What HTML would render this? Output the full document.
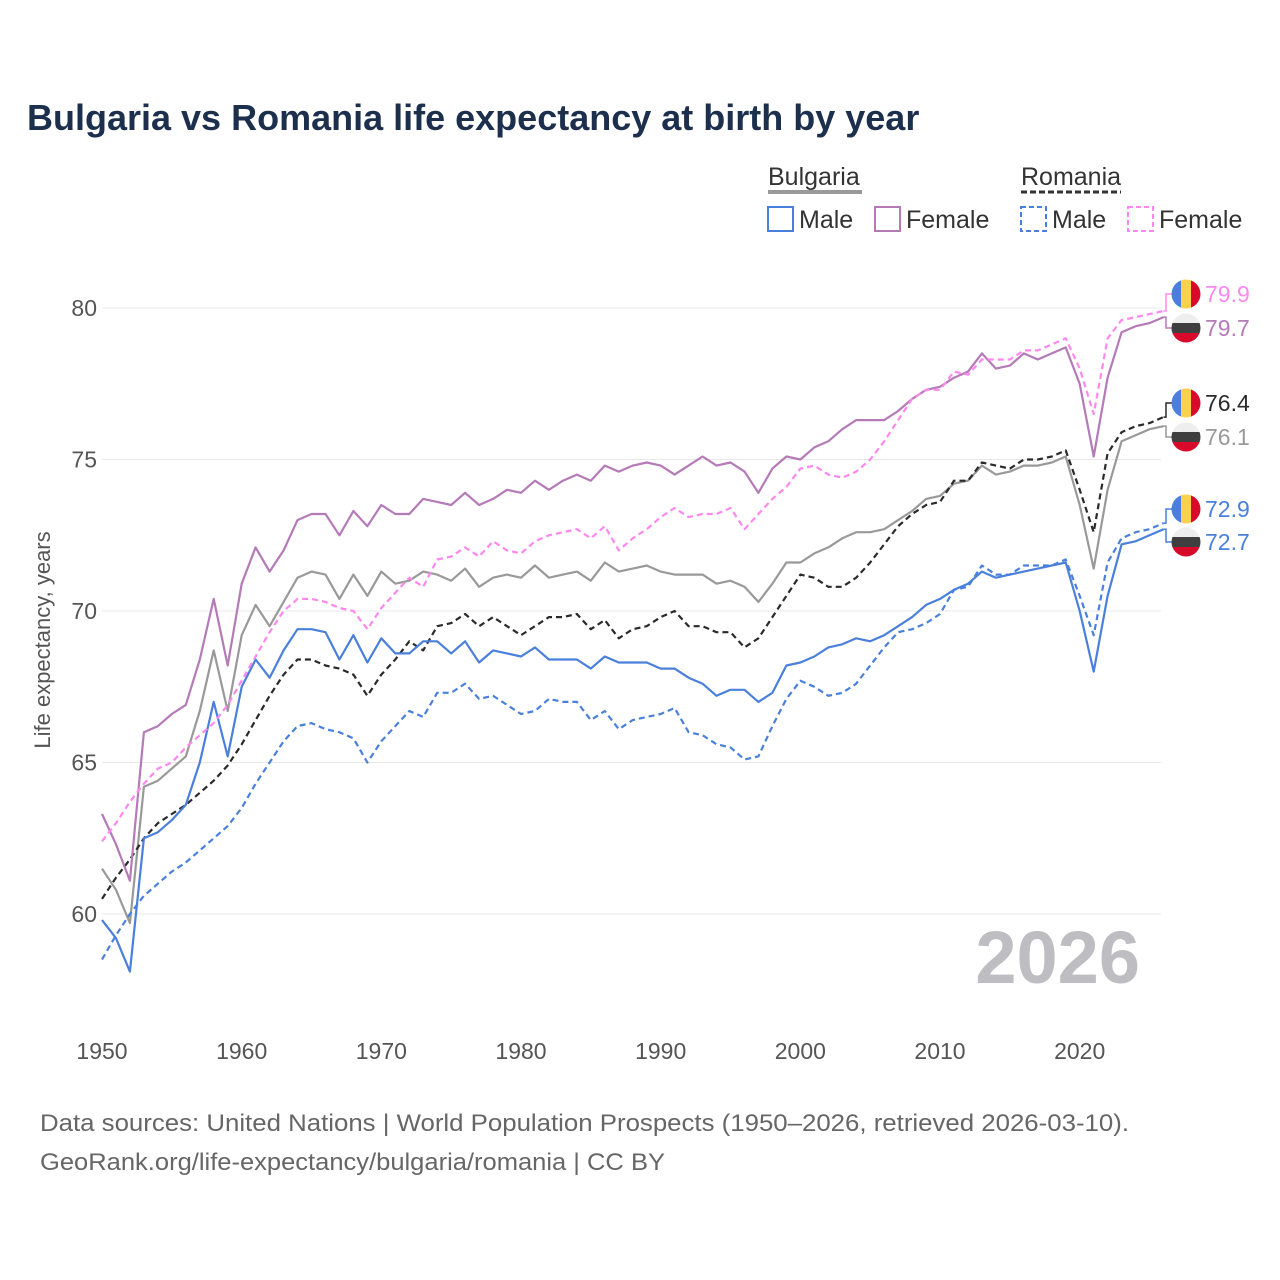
<!DOCTYPE html>
<html><head><meta charset="utf-8"><style>
body{margin:0;background:#fff;font-family:"Liberation Sans",sans-serif;}
svg{display:block}
</style></head><body>
<svg id="chart" width="1280" height="1280" viewBox="0 0 1280 1280" xmlns="http://www.w3.org/2000/svg">
<rect width="1280" height="1280" fill="#fff"/>
<text x="27" y="130" font-size="36" font-weight="bold" fill="#1c2f4d">Bulgaria vs Romania life expectancy at birth by year</text>
<g id="legend" font-size="25" fill="#333">
  <text x="768" y="185">Bulgaria</text>
  <line x1="768" y1="192" x2="862" y2="192" stroke="#999" stroke-width="4"/>
  <text x="1021" y="185">Romania</text>
  <line x1="1021" y1="192" x2="1121" y2="192" stroke="#333" stroke-width="3" stroke-dasharray="6,3"/>
  <g><rect x="768" y="207" width="25" height="24" fill="none" stroke="#4a80db" stroke-width="2"/><text x="799" y="228">Male</text></g>
  <g><rect x="875" y="207" width="25" height="24" fill="none" stroke="#b57ab8" stroke-width="2"/><text x="906" y="228">Female</text></g>
  <g><rect x="1021" y="207" width="25" height="24" fill="none" stroke="#4a80db" stroke-width="2" stroke-dasharray="5,3"/><text x="1052" y="228">Male</text></g>
  <g><rect x="1128" y="207" width="25" height="24" fill="none" stroke="#ff88f0" stroke-width="2" stroke-dasharray="5,3"/><text x="1159" y="228">Female</text></g>
</g>
<g id="grid"></g>
<g id="axes"></g>
<text x="1140" y="983" font-size="74" font-weight="bold" fill="#bdbdc2" text-anchor="end">2026</text>
<g id="series"></g>
<g id="labels"></g>
<text transform="translate(50,640) rotate(-90)" font-size="22" fill="#555" text-anchor="middle">Life expectancy, years</text>
<text x="40" y="1131" font-size="24" fill="#666" textLength="1089" lengthAdjust="spacingAndGlyphs">Data sources: United Nations | World Population Prospects (1950–2026, retrieved 2026-03-10).</text>
<text x="40" y="1170" font-size="24" fill="#666" textLength="625" lengthAdjust="spacingAndGlyphs">GeoRank.org/life-expectancy/bulgaria/romania | CC BY</text>
</svg>
<script>
const startYear = 1950;
const xTicks = [1950,1960,1970,1980,1990,2000,2010,2020];
const yTicks = [60,65,70,75,80];
const bgMale = [59.8,59.2,58.1,62.5,62.7,63.1,63.6,65.0,67.0,65.2,67.5,68.4,67.8,68.7,69.4,69.4,69.3,68.4,69.2,68.3,69.1,68.6,68.6,69.0,69.0,68.6,69.0,68.3,68.7,68.6,68.5,68.8,68.4,68.4,68.4,68.1,68.5,68.3,68.3,68.3,68.1,68.1,67.8,67.6,67.2,67.4,67.4,67.0,67.3,68.2,68.3,68.5,68.8,68.9,69.1,69.0,69.2,69.5,69.8,70.2,70.4,70.7,70.9,71.3,71.1,71.2,71.3,71.4,71.5,71.6,70.0,68.0,70.5,72.2,72.3,72.5,72.7];
const bgFemale = [63.3,62.3,61.1,66.0,66.2,66.6,66.9,68.4,70.4,68.2,70.9,72.1,71.3,72.0,73.0,73.2,73.2,72.5,73.3,72.8,73.5,73.2,73.2,73.7,73.6,73.5,73.9,73.5,73.7,74.0,73.9,74.3,74.0,74.3,74.5,74.3,74.8,74.6,74.8,74.9,74.8,74.5,74.8,75.1,74.8,74.9,74.6,73.9,74.7,75.1,75.0,75.4,75.6,76.0,76.3,76.3,76.3,76.6,77.0,77.3,77.4,77.7,77.9,78.5,78.0,78.1,78.5,78.3,78.5,78.7,77.5,75.1,77.7,79.2,79.4,79.5,79.7];
const bgTotal = [61.5,60.8,59.7,64.2,64.4,64.8,65.2,66.7,68.7,66.7,69.2,70.2,69.5,70.3,71.1,71.3,71.2,70.4,71.2,70.5,71.3,70.9,71.0,71.3,71.2,71.0,71.4,70.8,71.1,71.2,71.1,71.5,71.1,71.2,71.3,71.0,71.6,71.3,71.4,71.5,71.3,71.2,71.2,71.2,70.9,71.0,70.8,70.3,70.9,71.6,71.6,71.9,72.1,72.4,72.6,72.6,72.7,73.0,73.3,73.7,73.8,74.2,74.3,74.8,74.5,74.6,74.8,74.8,74.9,75.1,73.5,71.4,74.0,75.6,75.8,76.0,76.1];
const roMale = [58.5,59.3,60.0,60.6,61.0,61.4,61.7,62.1,62.5,62.9,63.5,64.3,65.0,65.7,66.2,66.3,66.1,66.0,65.8,65.0,65.7,66.2,66.7,66.5,67.3,67.3,67.6,67.1,67.2,66.9,66.6,66.7,67.1,67.0,67.0,66.4,66.7,66.1,66.4,66.5,66.6,66.8,66.0,65.9,65.6,65.5,65.1,65.2,66.2,67.1,67.7,67.5,67.2,67.3,67.6,68.2,68.8,69.3,69.4,69.6,69.9,70.7,70.8,71.5,71.2,71.2,71.5,71.5,71.5,71.7,70.5,69.2,71.6,72.4,72.6,72.7,72.9];
const roFemale = [62.4,63.0,63.7,64.3,64.8,65.0,65.5,65.9,66.3,66.9,67.7,68.5,69.3,70.0,70.4,70.4,70.3,70.1,70.0,69.4,70.1,70.6,71.1,70.8,71.7,71.8,72.1,71.8,72.3,72.0,71.9,72.3,72.5,72.6,72.7,72.4,72.8,72.0,72.4,72.7,73.1,73.4,73.1,73.2,73.2,73.4,72.7,73.2,73.7,74.1,74.7,74.8,74.5,74.4,74.6,75.0,75.6,76.3,77.0,77.3,77.3,77.9,77.8,78.3,78.3,78.3,78.6,78.6,78.8,79.0,78.0,76.5,79.0,79.6,79.7,79.8,79.9];
const roTotal = [60.5,61.2,61.8,62.5,63.0,63.3,63.6,64.0,64.4,64.9,65.6,66.4,67.2,67.9,68.4,68.4,68.2,68.1,67.9,67.2,67.9,68.4,69.0,68.7,69.5,69.6,69.9,69.5,69.8,69.5,69.2,69.5,69.8,69.8,69.9,69.4,69.7,69.1,69.4,69.5,69.8,70.0,69.5,69.5,69.3,69.3,68.8,69.1,69.8,70.5,71.2,71.1,70.8,70.8,71.1,71.6,72.2,72.8,73.2,73.5,73.6,74.3,74.3,74.9,74.8,74.7,75.0,75.0,75.1,75.3,74.0,72.6,75.2,75.9,76.1,76.2,76.4];

const NS='http://www.w3.org/2000/svg';
const x = yr => 102 + (yr-1950)*13.967;
const y = v => 308 + (80-v)*30.3;
function mk(tag, attrs, parent){const e=document.createElementNS(NS,tag);for(const k in attrs)e.setAttribute(k,attrs[k]);parent.appendChild(e);return e;}
const grid=document.getElementById('grid'), axes=document.getElementById('axes'), series=document.getElementById('series'), labels=document.getElementById('labels');
yTicks.forEach(v=>{
  const l=mk('line',{x1:102,x2:1161,y1:y(v),y2:y(v),stroke:'#e8e8e8','stroke-width':1},grid);
  
  
  const t=mk('text',{x:97,y:y(v)+8,'font-size':23,fill:'#555','text-anchor':'end'},axes);
  t.textContent=v;
  
  
});
xTicks.forEach(yr=>{
  const t=mk('text',{x:x(yr),y:1059,'font-size':23,fill:'#555','text-anchor':'middle'},axes);
  t.textContent=yr;
  
  
});
const defs=[
 [bgTotal,'#999',null,'bg-total-line'],
 [roTotal,'#2a2a2a','6,4','ro-total-line'],
 [bgMale,'#4a80db',null,'bg-male-line'],
 [roMale,'#4a80db','6,4','ro-male-line'],
 [bgFemale,'#b57ab8',null,'bg-female-line'],
 [roFemale,'#ff88f0','6,4','ro-female-line']
];
defs.forEach(([d,c,dash,name])=>{
  const pts=d.map((v,i)=>x(startYear+i).toFixed(1)+','+y(v).toFixed(1)).join(' ');
  const a={points:pts,fill:'none',stroke:c,'stroke-width':2.2,'stroke-linejoin':'round'};
  if(dash)a['stroke-dasharray']=dash;
  const p=mk('polyline',a,series);
  
  
});
const lastX=x(startYear+bgMale.length-1);
const ends=[
 [roFemale,'#ff88f0',294,'ro'],[bgFemale,'#b57ab8',328,'bg'],
 [roTotal,'#2a2a2a',403,'ro'],[bgTotal,'#999',437,'bg'],
 [roMale,'#4a80db',509,'ro'],[bgMale,'#4a80db',542,'bg']
];
ends.forEach(([d,c,ly,country])=>{
  const v=d[d.length-1];
  mk('polyline',{points:`${lastX},${y(v)} 1166,${y(v)} 1166,${ly} 1172,${ly}`,fill:'none',stroke:c,'stroke-width':1.5},labels);
  const g=mk('g',{},labels);
  
  
  const cid='clip'+ly;
  const cp=mk('clipPath',{id:cid},g); mk('circle',{cx:1186,cy:ly,r:14.5},cp);
  if(country==='ro'){
    mk('rect',{x:1171,y:ly-15,width:10,height:30,fill:'#4a80db','clip-path':`url(#${cid})`},g);
    mk('rect',{x:1181,y:ly-15,width:10,height:30,fill:'#fdd24a','clip-path':`url(#${cid})`},g);
    mk('rect',{x:1191,y:ly-15,width:10,height:30,fill:'#d8092b','clip-path':`url(#${cid})`},g);
  } else {
    mk('rect',{x:1171,y:ly-15,width:30,height:10,fill:'#eee','clip-path':`url(#${cid})`},g);
    mk('rect',{x:1171,y:ly-5,width:30,height:10,fill:'#3f3f3f','clip-path':`url(#${cid})`},g);
    mk('rect',{x:1171,y:ly+5,width:30,height:10,fill:'#d8092b','clip-path':`url(#${cid})`},g);
  }
  const t=mk('text',{x:1205,y:ly+8,'font-size':23,fill:c},labels);
  t.textContent=v.toFixed(1);
  
  
});
</script>
</body></html>
